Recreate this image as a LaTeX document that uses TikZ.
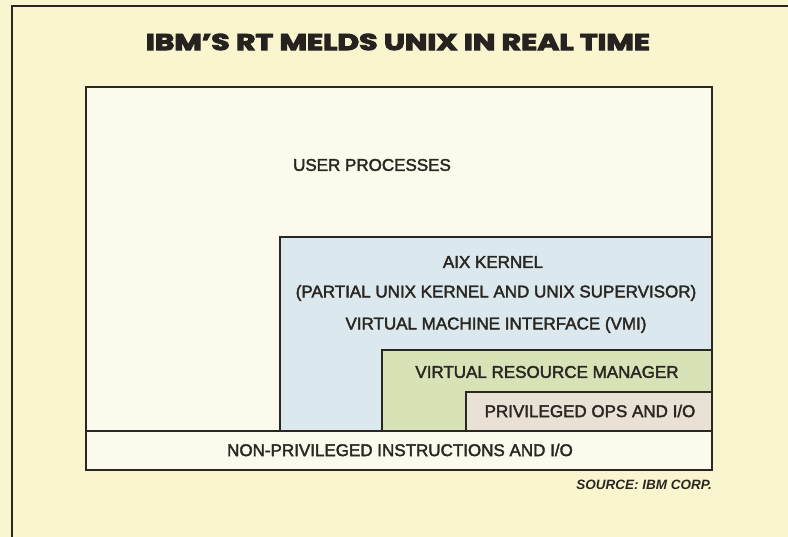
\documentclass[tikz,border=0pt]{standalone}
\usepackage{fontspec}
\setmainfont{Liberation Sans}
\newfontfamily\lblfont{Liberation Sans}[FakeBold=2.2]
\newfontfamily\headfont{Poppins}[FakeBold=4]
\usetikzlibrary{fit}
\definecolor{paper}{RGB}{249,245,206}
\definecolor{ink}{RGB}{42,38,34}
\definecolor{userfill}{RGB}{251,250,236}
\definecolor{aixfill}{RGB}{219,232,238}
\definecolor{vrmfill}{RGB}{215,227,182}
\definecolor{privfill}{RGB}{233,225,213}

\begin{document}
\begin{tikzpicture}[x=1pt,y=-1pt,
  layer/.style={draw=ink,line width=1.6pt,inner sep=0pt},
  lbl/.style={text=ink,font=\lblfont\fontsize{17}{19}\selectfont,inner sep=0pt},
  headline/.style={text=ink!90!black,inner sep=0pt,xscale=1.3,
    font=\headfont\bfseries\fontsize{23}{25}\selectfont},
  credit/.style={text=ink,inner sep=0pt,
    font=\bfseries\itshape\fontsize{13.5}{15}\selectfont}
]
\useasboundingbox (0,0) rectangle (788,537);
\fill[paper] (0,0) rectangle (788,537);
\draw[ink,line width=1.6pt] (12,537) -- (12,6) -- (788,6);
\node[headline] (title) at (398,42) {IBM’S RT MELDS UNIX IN REAL TIME};
% stacked layers
\node[layer,fill=userfill,fit={(86,87)(712,470)}] (user) {};
\node[layer,fill=aixfill,fit={(280,237)(712,431)}] (aix) {};
\node[layer,fill=vrmfill,fit={(382,350)(712,431)}] (vrm) {};
\node[layer,fill=privfill,fit={(466,392)(712,431)}] (priv) {};
\node[layer,fill=userfill,fit={(86,431)(712,470)}] (nonpriv) {};
\node[lbl] (userlbl) at (372,165) {USER PROCESSES};
\node[lbl] (aixlbl) at (493,262) {AIX KERNEL};
\node[lbl] (partlbl) at (496,293) {(PARTIAL UNIX KERNEL AND UNIX SUPERVISOR)};
\node[lbl] (vmilbl) at (496,325) {VIRTUAL MACHINE INTERFACE (VMI)};
\node[lbl] (vrmlbl) at (547,372) {VIRTUAL RESOURCE MANAGER};
\node[lbl] (privlbl) at (590,411) {PRIVILEGED OPS AND I/O};
\node[lbl] (nonprivlbl) at (400,450) {NON-PRIVILEGED INSTRUCTIONS AND I/O};
\node[credit,anchor=east] (source) at (712,485) {SOURCE: IBM CORP.};
\end{tikzpicture}
\end{document}
